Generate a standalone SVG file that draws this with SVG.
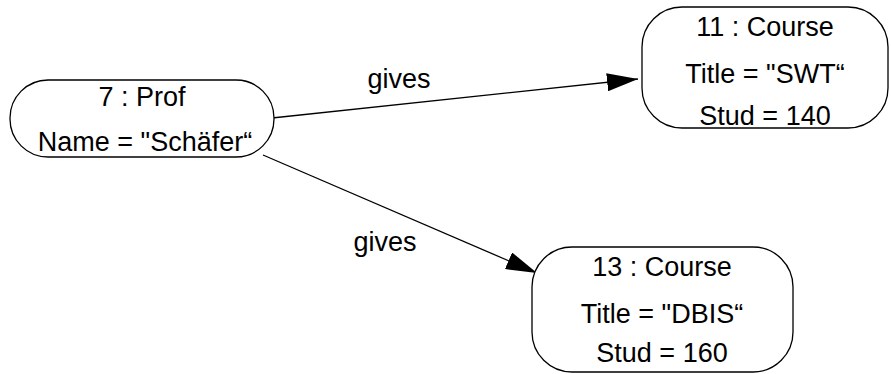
<svg xmlns="http://www.w3.org/2000/svg" width="891" height="374" viewBox="0 0 891 374">
<defs>
<style>
.node{fill:#fff;stroke:#000;stroke-width:1.3}
.t{font-family:"Liberation Sans",Arial,sans-serif;font-size:27px;fill:#000;text-anchor:middle}
.edge{stroke:#000;stroke-width:1.3;fill:none}
</style>
<marker id="arr" markerWidth="32" markerHeight="18" refX="31" refY="9" orient="auto" markerUnits="userSpaceOnUse">
<path d="M0,0 L31,9 L0,18 Z" fill="#000"/>
</marker>
</defs>
<g id="connectors">
<line class="edge" x1="272" y1="118" x2="638" y2="79" marker-end="url(#arr)"/>
<text class="t" x="399" y="88">gives</text>
<line class="edge" x1="263" y1="155" x2="537" y2="273" marker-end="url(#arr)"/>
<text class="t" x="385" y="251">gives</text>
</g>
<g id="prof">
<rect class="node" x="10" y="80" width="264" height="77" rx="38" ry="38"/>
<text class="t" x="142" y="106">7 : Prof</text>
<text class="t" x="145" y="151">Name = "Schäfer“</text>
</g>
<g id="course11">
<rect class="node" x="642" y="7" width="246" height="121" rx="40" ry="40"/>
<text class="t" x="765" y="36">11 : Course</text>
<text class="t" x="765" y="83">Title = "SWT“</text>
<text class="t" x="765" y="125">Stud = 140</text>
</g>
<g id="course13">
<rect class="node" x="532" y="247" width="261" height="125" rx="40" ry="40"/>
<text class="t" x="662" y="276">13 : Course</text>
<text class="t" x="662" y="323">Title = "DBIS“</text>
<text class="t" x="662" y="362">Stud = 160</text>
</g>
</svg>
